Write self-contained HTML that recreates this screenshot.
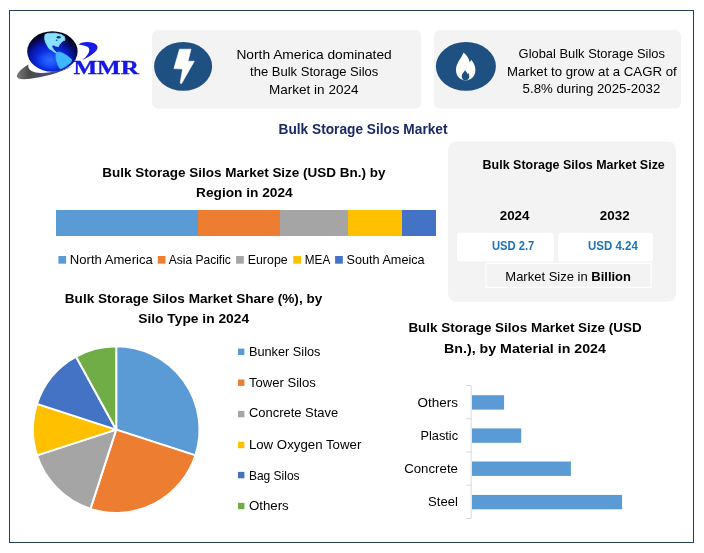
<!DOCTYPE html>
<html lang="en"><head><meta charset="utf-8"><title>Bulk Storage Silos Market</title>
<style>
html,body{margin:0;padding:0;background:#fff;}
body{width:704px;height:553px;overflow:hidden;}
svg{display:block;}
text{white-space:pre;}
</style></head><body>
<svg width="704" height="553" viewBox="0 0 704 553">
<rect x="9.5" y="10.5" width="684" height="532" fill="#fff" stroke="#243f5a" stroke-width="1"/>
<rect x="152" y="30" width="269.3" height="78.6" rx="6" fill="#f3f3f3"/>
<rect x="434" y="30" width="247" height="78.6" rx="6" fill="#f3f3f3"/>
<ellipse cx="183.1" cy="66.4" rx="29" ry="24.4" fill="#1f5082"/>
<path d="M179.5 49.2 L191 49.2 L188 61.2 L194.3 61.2 L181.6 83.6 Q180.6 84 180.2 82.7 L182.6 69 L173.9 68.6 Z" fill="#fff" stroke="#fff" stroke-width="0.6" stroke-linejoin="round"/>
<ellipse cx="465.9" cy="66.4" rx="30" ry="24.4" fill="#1f5082"/>
<path d="M463.5 52.6 C466.5 55 469 58.5 469.6 62 C470.6 61.5 471 60.5 471.2 59.8 C474 63 475.4 66.5 475.4 70 C475.4 76 471 80.4 465.7 80.4 C460.4 80.4 456 76 456 70 C456 63 461.5 58.5 463.5 52.6 Z" fill="#fff"/>
<path d="M465 70.2 C466.3 71.5 467.3 72.8 467.8 74.2 C468.2 73.8 468.4 73.4 468.5 73 C469.2 74.2 469.3 75.3 469.3 76.2 C469.3 78.6 467.6 80.4 465.5 80.4 C463.4 80.4 461.7 78.6 461.7 76.2 C461.7 73.6 464 72.2 465 70.2 Z" fill="#1f5082"/>
<text x="236.40" y="58.70" font-size="12.6" font-family='"Liberation Sans", sans-serif' fill="#000" text-anchor="start" textLength="155.38" lengthAdjust="spacingAndGlyphs">North America dominated</text>
<text x="250.00" y="76.30" font-size="12.6" font-family='"Liberation Sans", sans-serif' fill="#000" text-anchor="start" textLength="128.39" lengthAdjust="spacingAndGlyphs">the Bulk Storage Silos</text>
<text x="269.00" y="93.70" font-size="12.6" font-family='"Liberation Sans", sans-serif' fill="#000" text-anchor="start" textLength="89.50" lengthAdjust="spacingAndGlyphs">Market in 2024</text>
<text x="518.60" y="58.40" font-size="12.6" font-family='"Liberation Sans", sans-serif' fill="#000" text-anchor="start" textLength="146.30" lengthAdjust="spacingAndGlyphs">Global Bulk Storage Silos</text>
<text x="506.90" y="75.90" font-size="12.6" font-family='"Liberation Sans", sans-serif' fill="#000" text-anchor="start" textLength="169.87" lengthAdjust="spacingAndGlyphs">Market to grow at a CAGR of</text>
<text x="522.60" y="93.20" font-size="12.6" font-family='"Liberation Sans", sans-serif' fill="#000" text-anchor="start" textLength="137.73" lengthAdjust="spacingAndGlyphs">5.8% during 2025-2032</text>
<text x="278.50" y="133.90" font-size="13.9" font-family='"Liberation Sans", sans-serif' font-weight="700" fill="#1b2a66" text-anchor="start" textLength="169.03" lengthAdjust="spacingAndGlyphs">Bulk Storage Silos Market</text>
<text x="102.30" y="177.00" font-size="13.0" font-family='"Liberation Sans", sans-serif' font-weight="700" fill="#000" text-anchor="start" textLength="283.20" lengthAdjust="spacingAndGlyphs">Bulk Storage Silos Market Size (USD Bn.) by</text>
<text x="196.10" y="196.80" font-size="13.0" font-family='"Liberation Sans", sans-serif' font-weight="700" fill="#000" text-anchor="start" textLength="96.57" lengthAdjust="spacingAndGlyphs">Region in 2024</text>
<rect x="56" y="210" width="142" height="26" fill="#5b9bd5"/>
<rect x="198" y="210" width="82" height="26" fill="#ed7d31"/>
<rect x="280" y="210" width="68" height="26" fill="#a5a5a5"/>
<rect x="348" y="210" width="54" height="26" fill="#ffc000"/>
<rect x="402" y="210" width="34" height="26" fill="#4472c4"/>
<rect x="58.4" y="256.0" width="7.7" height="7.7" fill="#5b9bd5"/>
<text x="69.80" y="264.20" font-size="12.6" font-family='"Liberation Sans", sans-serif' fill="#000" text-anchor="start" textLength="82.94" lengthAdjust="spacingAndGlyphs">North America</text>
<rect x="157.8" y="256.0" width="7.7" height="7.7" fill="#ed7d31"/>
<text x="168.70" y="264.20" font-size="12.6" font-family='"Liberation Sans", sans-serif' fill="#000" text-anchor="start" textLength="62.18" lengthAdjust="spacingAndGlyphs">Asia Pacific</text>
<rect x="236.1" y="256.0" width="7.7" height="7.7" fill="#a5a5a5"/>
<text x="247.70" y="264.20" font-size="12.6" font-family='"Liberation Sans", sans-serif' fill="#000" text-anchor="start" textLength="40.00" lengthAdjust="spacingAndGlyphs">Europe</text>
<rect x="293.29999999999995" y="256.0" width="7.7" height="7.7" fill="#ffc000"/>
<text x="304.80" y="264.20" font-size="12.6" font-family='"Liberation Sans", sans-serif' fill="#000" text-anchor="start" textLength="25.47" lengthAdjust="spacingAndGlyphs">MEA</text>
<rect x="335.09999999999997" y="256.0" width="7.7" height="7.7" fill="#4472c4"/>
<text x="346.50" y="264.20" font-size="12.6" font-family='"Liberation Sans", sans-serif' fill="#000" text-anchor="start" textLength="78.14" lengthAdjust="spacingAndGlyphs">South Ameica</text>
<rect x="448" y="141.4" width="228" height="160.4" rx="8" fill="#f3f3f3"/>
<text x="482.60" y="168.70" font-size="13.0" font-family='"Liberation Sans", sans-serif' font-weight="700" fill="#000" text-anchor="start" textLength="182.21" lengthAdjust="spacingAndGlyphs">Bulk Storage Silos Market Size</text>
<text x="499.70" y="220.30" font-size="13.0" font-family='"Liberation Sans", sans-serif' font-weight="700" fill="#000" text-anchor="start" textLength="29.80" lengthAdjust="spacingAndGlyphs">2024</text>
<text x="599.80" y="220.30" font-size="13.0" font-family='"Liberation Sans", sans-serif' font-weight="700" fill="#000" text-anchor="start" textLength="29.80" lengthAdjust="spacingAndGlyphs">2032</text>
<rect x="457" y="232.8" width="96.8" height="28.6" rx="3" fill="#fff"/>
<rect x="558.3" y="232.8" width="94.8" height="28.6" rx="3" fill="#fff"/>
<text x="491.90" y="250.00" font-size="12.0" font-family='"Liberation Sans", sans-serif' font-weight="700" fill="#1d73b9" text-anchor="start" textLength="42.39" lengthAdjust="spacingAndGlyphs">USD 2.7</text>
<text x="588.10" y="250.00" font-size="12.0" font-family='"Liberation Sans", sans-serif' font-weight="700" fill="#1d73b9" text-anchor="start" textLength="49.71" lengthAdjust="spacingAndGlyphs">USD 4.24</text>
<rect x="486" y="263.4" width="165.2" height="24" fill="#f3f3f3" stroke="#fff" stroke-width="1.2"/>
<text x="505.3" y="280.8" font-size="12.6" font-family='"Liberation Sans", sans-serif' textLength="125.7" lengthAdjust="spacingAndGlyphs">Market Size in <tspan font-weight="700">Billion</tspan></text>
<text x="64.80" y="302.90" font-size="13.0" font-family='"Liberation Sans", sans-serif' font-weight="700" fill="#000" text-anchor="start" textLength="257.50" lengthAdjust="spacingAndGlyphs">Bulk Storage Silos Market Share (%), by</text>
<text x="138.20" y="322.90" font-size="13.0" font-family='"Liberation Sans", sans-serif' font-weight="700" fill="#000" text-anchor="start" textLength="110.90" lengthAdjust="spacingAndGlyphs">Silo Type in 2024</text>
<path d="M116.2 429.65 L116.20 346.35 A83.3 83.3 0 0 1 195.42 455.39 Z" fill="#5b9bd5" stroke="#fff" stroke-width="2" stroke-linejoin="round"/>
<path d="M116.2 429.65 L195.42 455.39 A83.3 83.3 0 0 1 90.46 508.87 Z" fill="#ed7d31" stroke="#fff" stroke-width="2" stroke-linejoin="round"/>
<path d="M116.2 429.65 L90.46 508.87 A83.3 83.3 0 0 1 36.98 455.39 Z" fill="#a5a5a5" stroke="#fff" stroke-width="2" stroke-linejoin="round"/>
<path d="M116.2 429.65 L36.98 455.39 A83.3 83.3 0 0 1 36.98 403.91 Z" fill="#ffc000" stroke="#fff" stroke-width="2" stroke-linejoin="round"/>
<path d="M116.2 429.65 L36.98 403.91 A83.3 83.3 0 0 1 76.07 356.65 Z" fill="#4472c4" stroke="#fff" stroke-width="2" stroke-linejoin="round"/>
<path d="M116.2 429.65 L76.07 356.65 A83.3 83.3 0 0 1 116.20 346.35 Z" fill="#70ad47" stroke="#fff" stroke-width="2" stroke-linejoin="round"/>
<rect x="238" y="348.6" width="6.4" height="6.4" fill="#5b9bd5"/>
<text x="248.90" y="356.10" font-size="12.6" font-family='"Liberation Sans", sans-serif' fill="#000" text-anchor="start" textLength="71.59" lengthAdjust="spacingAndGlyphs">Bunker Silos</text>
<rect x="238" y="379.5" width="6.4" height="6.4" fill="#ed7d31"/>
<text x="248.90" y="386.70" font-size="12.6" font-family='"Liberation Sans", sans-serif' fill="#000" text-anchor="start" textLength="66.97" lengthAdjust="spacingAndGlyphs">Tower Silos</text>
<rect x="238" y="410.9" width="6.4" height="6.4" fill="#a5a5a5"/>
<text x="248.90" y="417.40" font-size="12.6" font-family='"Liberation Sans", sans-serif' fill="#000" text-anchor="start" textLength="89.37" lengthAdjust="spacingAndGlyphs">Concrete Stave</text>
<rect x="238" y="441.8" width="6.4" height="6.4" fill="#ffc000"/>
<text x="248.90" y="449.00" font-size="12.6" font-family='"Liberation Sans", sans-serif' fill="#000" text-anchor="start" textLength="112.41" lengthAdjust="spacingAndGlyphs">Low Oxygen Tower</text>
<rect x="238" y="471.9" width="6.4" height="6.4" fill="#4472c4"/>
<text x="248.90" y="479.90" font-size="12.6" font-family='"Liberation Sans", sans-serif' fill="#000" text-anchor="start" textLength="50.70" lengthAdjust="spacingAndGlyphs">Bag Silos</text>
<rect x="238" y="502.8" width="6.4" height="6.4" fill="#70ad47"/>
<text x="248.90" y="509.70" font-size="12.6" font-family='"Liberation Sans", sans-serif' fill="#000" text-anchor="start" textLength="39.81" lengthAdjust="spacingAndGlyphs">Others</text>
<text x="408.40" y="332.30" font-size="13.0" font-family='"Liberation Sans", sans-serif' font-weight="700" fill="#000" text-anchor="start" textLength="233.28" lengthAdjust="spacingAndGlyphs">Bulk Storage Silos Market Size (USD</text>
<text x="444.10" y="352.80" font-size="13.0" font-family='"Liberation Sans", sans-serif' font-weight="700" fill="#000" text-anchor="start" textLength="161.77" lengthAdjust="spacingAndGlyphs">Bn.), by Material in 2024</text>
<path d="M471.2 385.5 V518.5 M466.2 385.5 H471.2 M466.2 418.7 H471.2 M466.2 452 H471.2 M466.2 485.2 H471.2 M466.2 518.5 H471.2" stroke="#d9d9d9" stroke-width="1" fill="none"/>
<rect x="472" y="395.2" width="32.1" height="14.4" fill="#5b9bd5"/>
<text x="417.60" y="407.30" font-size="12.6" font-family='"Liberation Sans", sans-serif' fill="#000" text-anchor="start" textLength="40.41" lengthAdjust="spacingAndGlyphs">Others</text>
<rect x="472" y="428.4" width="49.2" height="14.4" fill="#5b9bd5"/>
<text x="420.50" y="440.00" font-size="12.6" font-family='"Liberation Sans", sans-serif' fill="#000" text-anchor="start" textLength="37.50" lengthAdjust="spacingAndGlyphs">Plastic</text>
<rect x="472" y="461.5" width="98.9" height="14.4" fill="#5b9bd5"/>
<text x="404.20" y="473.00" font-size="12.6" font-family='"Liberation Sans", sans-serif' fill="#000" text-anchor="start" textLength="53.77" lengthAdjust="spacingAndGlyphs">Concrete</text>
<rect x="472" y="494.9" width="150.1" height="14.4" fill="#5b9bd5"/>
<text x="428.10" y="506.30" font-size="12.6" font-family='"Liberation Sans", sans-serif' fill="#000" text-anchor="start" textLength="29.89" lengthAdjust="spacingAndGlyphs">Steel</text>
<defs>
<radialGradient id="gl" cx="0.47" cy="0.68" r="0.6" fx="0.45" fy="0.72">
<stop offset="0" stop-color="#1e5cff"/><stop offset="0.35" stop-color="#0c34ea"/><stop offset="0.66" stop-color="#0818b0"/><stop offset="0.86" stop-color="#050a58"/><stop offset="1" stop-color="#02031c"/>
</radialGradient>
<linearGradient id="sw" x1="0" y1="0" x2="1" y2="0"><stop offset="0" stop-color="#7a7a7a"/><stop offset="0.22" stop-color="#4a4a4a"/><stop offset="0.6" stop-color="#4a4e78"/><stop offset="1" stop-color="#1c2cc0"/></linearGradient>
<radialGradient id="hl"><stop offset="0" stop-color="#2f74ff" stop-opacity="0.6"/><stop offset="1" stop-color="#2f74ff" stop-opacity="0"/></radialGradient>
<clipPath id="gc"><ellipse cx="52.4" cy="51.5" rx="25.2" ry="20.2"/></clipPath>
</defs>
<ellipse cx="52.4" cy="51.5" rx="25.2" ry="20.2" fill="url(#gl)"/>
<g clip-path="url(#gc)">
<ellipse cx="50.5" cy="60" rx="15" ry="10" fill="url(#hl)"/>
<path d="M45 34.5 L48 33.4 L55 33.2 L61.1 34.5 L64.5 36.7 L65 40.2 L62.8 41 L61.1 42.8 L59.3 44.5 L58.5 46.7 L56.7 46.2 L54.1 45.8 L52.4 47.5 L53.7 50.1 L55.9 51.9 L56.7 53.2 L54.1 51.9 L51.5 50.1 L48.9 48.4 L47.2 45.4 L45.4 41.9 L44.6 38.4 Z" fill="#86e2ff" stroke="#86e2ff" stroke-width="0.8" stroke-linejoin="round"/>
<ellipse cx="58.6" cy="37.2" rx="2" ry="1.3" fill="#0b2690"/>
<ellipse cx="56.6" cy="40.2" rx="1" ry="0.7" fill="#1a50c8"/>
<ellipse cx="53.6" cy="46.6" rx="1.5" ry="1" fill="#0a2fc8"/>
<path d="M56.3 52.7 L59.3 51.9 L62.8 53.2 L67.1 55.8 L71.9 59.7 L70.6 62.7 L67.1 65.3 L63.7 67.5 L60.2 68.8 L58 65.3 L56.7 61 L55.9 56.6 Z" fill="#3fb6ff" stroke="#3fb6ff" stroke-width="0.8" stroke-linejoin="round"/>
</g>
<path d="M28.3 64.6 C22 68.2 17 73 16.8 76.3 C17.2 79.2 22 79.6 30 78.7 C42 77.4 58 73.8 74.2 65.6 C64 70 52 72.6 42 73 C34 73.2 27.4 71 28.3 64.6 Z" fill="url(#sw)"/>
<path d="M78.4 44.4 C81 42.8 84 42 87 42 C91 42 95.2 43 97 45.4 C98.4 48 96.6 50.6 94.4 52.4 C91 55.4 86.6 58 81.8 60.2 C84.4 58.4 86.4 56.4 87.8 54.2 C89.6 51.6 90 48.8 88.2 47.2 C86 45.4 82 45.2 78.4 44.4 Z" fill="#1a1ae8"/>

<text x="73.40" y="74.20" font-size="19.6" font-family='"Liberation Serif", serif' font-weight="700" fill="#1616e6" text-anchor="start" textLength="65.52" lengthAdjust="spacingAndGlyphs" stroke="#1616e6" stroke-width="0.3">MMR</text>
</svg>
</body></html>
